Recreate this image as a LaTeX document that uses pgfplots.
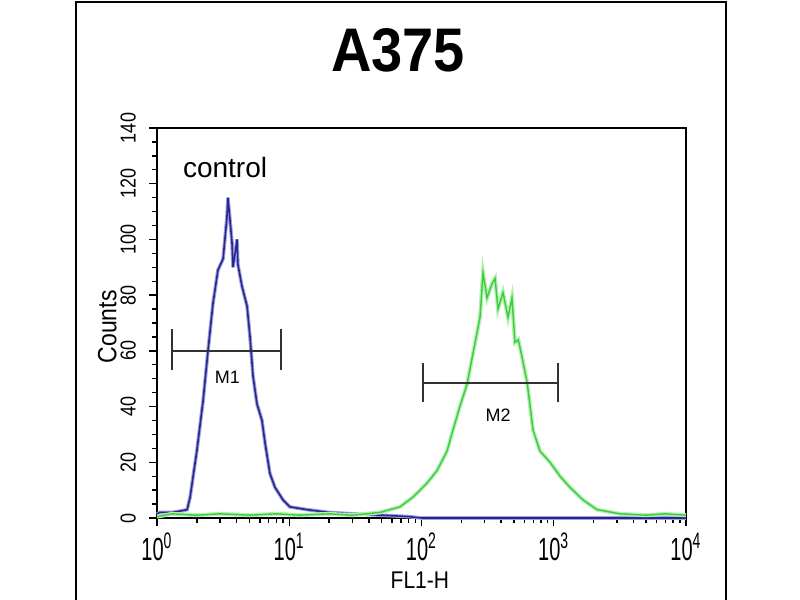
\documentclass[border=0pt]{standalone}
\usepackage{pgfplots}
\pgfplotsset{compat=1.18}
\usepackage{fontspec}
\setmainfont{Liberation Sans}
\definecolor{navy}{RGB}{40,40,140}
\definecolor{navyhalo}{RGB}{160,160,225}
\definecolor{fgreen}{RGB}{60,205,60}
\definecolor{ghalo}{RGB}{180,240,180}
\definecolor{gatecol}{RGB}{50,50,50}
\newcommand{\xl}[1]{\scalebox{1}[1.6]{10\textsuperscript{#1}}}
\begin{document}
\begin{tikzpicture}[x=1pt,y=1pt]
\useasboundingbox (0,0) rectangle (400,300);
\draw[line width=1pt] (37.8,-5) -- (37.8,299.2) -- (363.2,299.2) -- (363.2,-5);
\node[font=\fontsize{28}{28}\selectfont\bfseries] at (199,275) {\scalebox{1}[1.1]{A375}};
\begin{axis}[
  at={(78.5pt,41pt)}, anchor=south west, scale only axis,
  width=264.5pt, height=195pt,
  xmode=log, xmin=1, xmax=10000, ymin=0, ymax=140,
  ytick={0,20,...,140}, minor y tick num=3,
  xtick={1,10,100,1000,10000},
  xticklabels={\xl{0},\xl{1},\xl{2},\xl{3},\xl{4}},
  xtick pos=bottom, ytick pos=left,
  yticklabel={\scalebox{1}[1.2]{\pgfmathprintnumber[assume math mode=true]{\tick}}},
  tick align=outside,
  major tick length=4pt, minor tick length=2.5pt,
  tick style={black, line width=0.7pt},
  axis line style={black, line width=0.8pt},
  yticklabel style={rotate=90, anchor=south, font=\fontsize{9}{9}\selectfont},
  yticklabel shift=3pt,
  xticklabel style={anchor=north, font=\fontsize{10}{10}\selectfont},
  xlabel={\scalebox{1}[1.15]{FL1-H}}, ylabel={\scalebox{1}[1.15]{Counts}},
  xlabel style={at={(rel axis cs:0.497,-0.159)}, anchor=center, font=\fontsize{10.5}{10.5}\selectfont},
  ylabel style={at={(rel axis cs:-0.094,0.49)}, anchor=center, font=\fontsize{11.5}{11.5}\selectfont},
  clip=false,
]
% blue control
\addplot[navyhalo, line width=1.8pt, forget plot] coordinates {
(1.0,1.5)(1.05,2)(1.3,2)(1.5,2.5)(1.69,3)(1.78,7.5)(2.0,24)(2.23,42)(2.43,60)(2.65,77)(2.89,89)(3.16,93)(3.38,108)(3.44,115)(3.69,99)(3.76,90)(4.03,100)(4.09,91)(4.40,83)(4.80,76)(5.05,65)(5.32,51)(5.70,41)(6.22,35)(6.56,27)(7.14,16)(7.80,11)(8.97,6.5)(10.1,4)(13.6,3)(20,2)(30,1.5)(50,1)(80,0.5)(100,0)(10000,0)};
\addplot[navy, line width=0.8pt, forget plot] coordinates {
(1.0,1.5)(1.05,2)(1.3,2)(1.5,2.5)(1.69,3)(1.78,7.5)(2.0,24)(2.23,42)(2.43,60)(2.65,77)(2.89,89)(3.16,93)(3.38,108)(3.44,115)(3.69,99)(3.76,90)(4.03,100)(4.09,91)(4.40,83)(4.80,76)(5.05,65)(5.32,51)(5.70,41)(6.22,35)(6.56,27)(7.14,16)(7.80,11)(8.97,6.5)(10.1,4)(13.6,3)(20,2)(30,1.5)(50,1)(80,0.5)(100,0)(10000,0)};
% green sample
\addplot[ghalo, line width=2pt, forget plot] coordinates {
(1.0,0.5)(1.3,1.5)(2,1)(3,1.5)(5,1)(8,1.5)(12,1)(20,1.5)(30,1)(48.5,2)(68.8,4)(86.2,7.5)(110,12.5)(131,17)(156,24)(173,31.6)(195,40)(221,48)(245,59)(277,72)(292,88)(313,79)(341,84)(360,86)(379,75)(413,81)(451,72)(483,79)(509,63)(540,64)(580,57)(630,48.5)(697,31.6)(787,24)(937,20)(1115,15)(1327,11)(1664,6.5)(2124,3)(3170,1.5)(5000,1)(7000,1.5)(10000,1)};
\addplot[fgreen, line width=0.7pt, forget plot] coordinates {
(1.0,0.5)(1.3,1.5)(2,1)(3,1.5)(5,1)(8,1.5)(12,1)(20,1.5)(30,1)(48.5,2)(68.8,4)(86.2,7.5)(110,12.5)(131,17)(156,24)(173,31.6)(195,40)(221,48)(245,59)(277,72)(292,88)(313,79)(341,84)(360,86)(379,75)(413,81)(451,72)(483,79)(509,63)(540,64)(580,57)(630,48.5)(697,31.6)(787,24)(937,20)(1115,15)(1327,11)(1664,6.5)(2124,3)(3170,1.5)(5000,1)(7000,1.5)(10000,1)};
% M1 marker
\addplot[gatecol, line width=1pt, forget plot] coordinates {(1.29,60) (8.61,60)};
\addplot[gatecol, line width=1pt, forget plot] coordinates {(1.29,53) (1.29,68)};
\addplot[gatecol, line width=1pt, forget plot] coordinates {(8.61,53) (8.61,68)};
% M2 marker
\addplot[gatecol, line width=1pt, forget plot] coordinates {(103,48.5) (1077,48.5)};
\addplot[gatecol, line width=1pt, forget plot] coordinates {(103,41.6) (103,55.6)};
\addplot[gatecol, line width=1pt, forget plot] coordinates {(1077,41.6) (1077,55.6)};
\node[font=\fontsize{9}{9}\selectfont] at (axis cs:3.4,50.6) {M1};
\node[font=\fontsize{9}{9}\selectfont] at (axis cs:379,37) {M2};
\node[font=\fontsize{14}{14}\selectfont] at (axis cs:3.27,126) {control};
\end{axis}
\end{tikzpicture}
\end{document}
